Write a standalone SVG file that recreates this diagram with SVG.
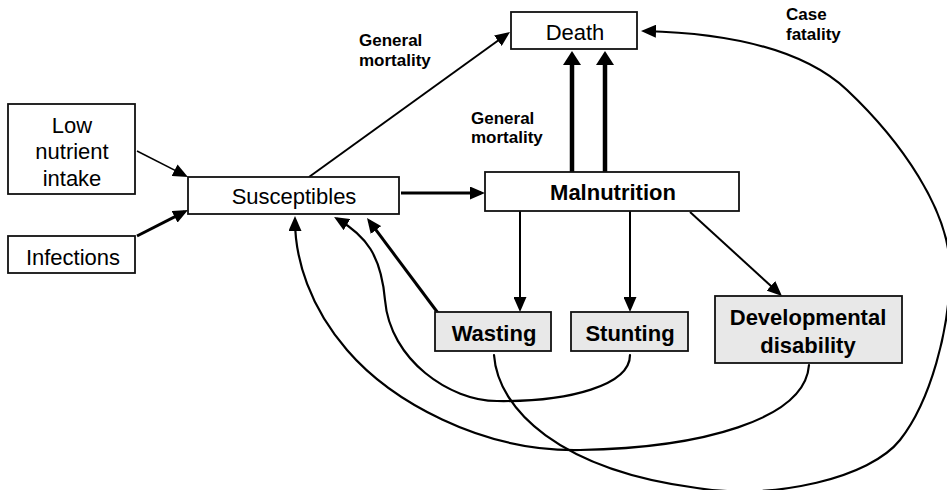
<svg xmlns="http://www.w3.org/2000/svg" width="947" height="490" viewBox="0 0 947 490">
<style>
.box{fill:#fff;stroke:#111;stroke-width:1.8}
.gbox{fill:#e8e8e8;stroke:#111;stroke-width:1.8}
.t{font-family:"Liberation Sans",Arial,sans-serif;font-size:22px;fill:#000;text-anchor:middle}
.tb{font-family:"Liberation Sans",Arial,sans-serif;font-size:22px;font-weight:bold;fill:#000;text-anchor:middle}
.lbl{font-family:"Liberation Sans",Arial,sans-serif;font-size:17px;font-weight:bold;fill:#000}
.c{fill:none;stroke:#000;stroke-width:2.2;stroke-linecap:round;marker-end:url(#ah)}
.s{fill:none;stroke:#000;stroke-width:2;marker-end:url(#ah)}
.s3{fill:none;stroke:#000;stroke-width:3;marker-end:url(#ah)}
.s4{fill:none;stroke:#000;stroke-width:4.5;marker-end:url(#ahb)}
</style>
<defs>
<marker id="ah" markerUnits="userSpaceOnUse" viewBox="0 0 15 13" refX="11" refY="6.5" markerWidth="15" markerHeight="13" orient="auto"><path d="M0,0 L15,6.5 L0,13 z" fill="#000"/></marker>
<marker id="ahb" markerUnits="userSpaceOnUse" viewBox="0 0 14 18" refX="6" refY="9" markerWidth="14" markerHeight="18" orient="auto"><path d="M0,0 L14,9 L0,18 z" fill="#000"/></marker>
</defs>

<g id="connectors">
<path class="s" style="stroke-width:1.5" d="M137,151 L184.4,175.2"/>
<path class="s3" d="M137,236 L184.4,211.8"/>
<path class="s" d="M309,177 L506.8,34.3"/>
<path class="s3" d="M401,193 L481,193"/>
<path class="s4" d="M572,172 L572,59"/>
<path class="s4" d="M605,172 L605,59"/>
<path class="s" d="M520,211 L520,308"/>
<path class="s" d="M630,211 L630,308"/>
<path class="s" d="M690,212 L779,293.3"/>
<path class="s3" d="M438,313 L369.4,221.2"/>
<path class="c" d="M630,355 C630,385 570,402 497,401 C450,401 390,360 385,300 C381,255 366,236 337.5,219"/>
<path class="c" d="M809,365 C805,420 700,448 580,450 C480,452 390,400 347,350 C310,307 295,260 295,220"/>
<path class="c" d="M494,355 C498,410 560,470 697,488 C775,500 870,478 900,440 C930,402 950,330 950,270 C950,210 900,140 847,90 C800,46 720,33 645,31"/>
</g>

<g id="low-nutrient-intake">
<rect class="box" x="8" y="104" width="127" height="90"/>
<text class="t" x="72" y="133">Low</text>
<text class="t" x="72" y="159">nutrient</text>
<text class="t" x="72" y="186">intake</text>
</g>
<g id="infections">
<rect class="box" x="8" y="236" width="127" height="37"/>
<text class="t" x="73" y="265">Infections</text>
</g>
<g id="susceptibles">
<rect class="box" x="188" y="177" width="211" height="37"/>
<text class="t" x="294" y="204">Susceptibles</text>
</g>
<g id="death">
<rect class="box" x="511" y="12" width="126" height="37"/>
<text class="t" x="575" y="40">Death</text>
</g>
<g id="malnutrition">
<rect class="box" x="485" y="172" width="254" height="39"/>
<text class="tb" x="613" y="200">Malnutrition</text>
</g>
<g id="wasting">
<rect class="gbox" x="435" y="312" width="116" height="39"/>
<text class="tb" x="494" y="341">Wasting</text>
</g>
<g id="stunting">
<rect class="gbox" x="571" y="312" width="117" height="39"/>
<text class="tb" x="630" y="341">Stunting</text>
</g>
<g id="developmental-disability">
<rect class="gbox" x="715" y="296" width="187" height="67"/>
<text class="tb" x="808" y="325">Developmental</text>
<text class="tb" x="808" y="353">disability</text>
</g>

<g id="labels">
<text class="lbl" x="359" y="46">General</text>
<text class="lbl" x="359" y="66">mortality</text>
<text class="lbl" x="471" y="124">General</text>
<text class="lbl" x="471" y="143">mortality</text>
<text class="lbl" x="786" y="20">Case</text>
<text class="lbl" x="786" y="40">fatality</text>
</g>
</svg>
